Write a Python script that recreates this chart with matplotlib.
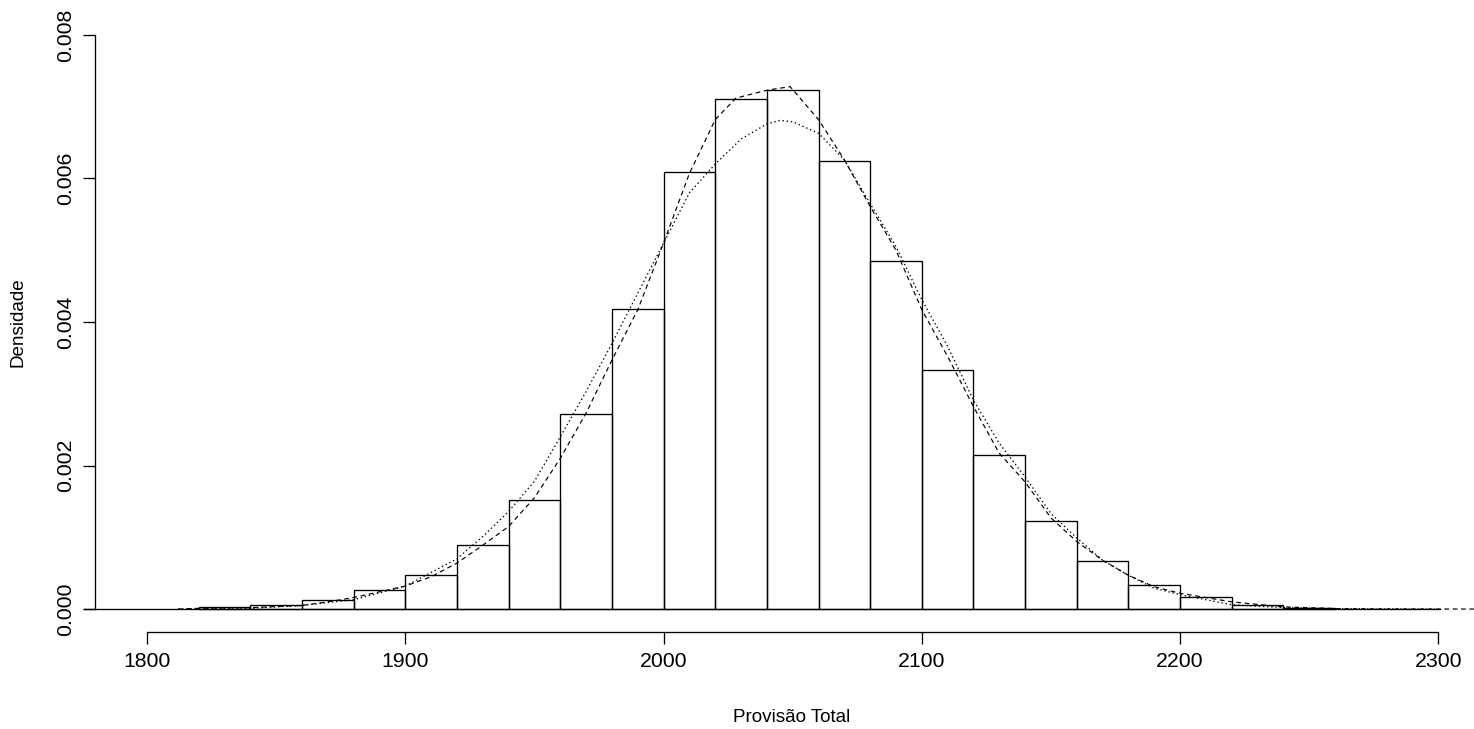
import matplotlib
matplotlib.use("Agg")
import matplotlib.pyplot as plt

plt.rcParams['font.family'] = ['Liberation Sans', 'DejaVu Sans']
plt.rcParams['lines.scale_dashes'] = False

# Histogram (bin left edges, width 20, density heights)
bin_left = [1820, 1840, 1860, 1880, 1900, 1920, 1940, 1960, 1980, 2000, 2020,
            2040, 2060, 2080, 2100, 2120, 2140, 2160, 2180, 2200, 2220, 2240]
bin_width = 20
density = [0.00003, 0.00005, 0.00013, 0.000265, 0.00048, 0.00089, 0.00152,
           0.00272, 0.00418, 0.00609, 0.00711, 0.00723, 0.00624, 0.00485,
           0.00333, 0.00215, 0.00123, 0.000665, 0.00033, 0.000165, 0.00006,
           0.00001]

# Dashed curve (kernel density estimate)
kde_x = [1812, 1820, 1840, 1860, 1870, 1880, 1890, 1900, 1910, 1920, 1930,
         1940, 1950, 1960, 1970, 1980, 1990, 2000, 2010, 2020, 2028, 2040,
         2049, 2060, 2070, 2080, 2090, 2100, 2110, 2120, 2130, 2140, 2150,
         2160, 2170, 2180, 2190, 2200, 2220, 2240, 2262, 2280, 2320]
kde_y = [0.0, 0.00001, 0.00002, 0.00005, 0.0001, 0.00016, 0.00024, 0.00032,
         0.00045, 0.00064, 0.00089, 0.00115, 0.00155, 0.0021, 0.00273,
         0.00347, 0.00417, 0.0051, 0.00607, 0.00682, 0.00712, 0.00723,
         0.00728, 0.00682, 0.00626, 0.00561, 0.005, 0.00417, 0.00352,
         0.00282, 0.00217, 0.00177, 0.00127, 0.00094, 0.00068, 0.00047,
         0.00031, 0.00022, 0.0001, 0.00003, 0.000005, 0.0, 0.0]

# Dotted curve (normal density)
norm_x = [1812, 1820, 1840, 1860, 1880, 1900, 1920, 1930, 1940, 1950, 1960,
          1970, 1980, 1990, 2000, 2010, 2020, 2030, 2040, 2045, 2050, 2060,
          2070, 2080, 2090, 2100, 2110, 2120, 2130, 2140, 2150, 2160, 2170,
          2180, 2190, 2200, 2220, 2240, 2260, 2300]
norm_y = [0.0, 0.000004, 0.00001, 0.00005, 0.00013, 0.00032, 0.0007,
          0.00101, 0.00136, 0.00178, 0.0024, 0.00303, 0.0037, 0.0044,
          0.0051, 0.0058, 0.0062, 0.00655, 0.00676, 0.00681, 0.00679,
          0.00663, 0.00626, 0.00565, 0.00505, 0.00431, 0.00366, 0.00291,
          0.00231, 0.00184, 0.00133, 0.00099, 0.00068, 0.00047, 0.00029,
          0.0002, 0.00006, 0.00002, 0.000005, 0.0]

baseline_x = [1775.6, 2300.8]
baseline_y = [0.0, 0.0]

x_ticks = [1800, 1900, 2000, 2100, 2200, 2300]
y_ticks = [0.000, 0.002, 0.004, 0.006, 0.008]
y_tick_labels = ["0.000", "0.002", "0.004", "0.006", "0.008"]

W, H = 1474, 729
fig = plt.figure(figsize=(W / 100, H / 100), dpi=100)
fig.patch.set_facecolor('white')
ax = fig.add_axes([95.4 / W, (H - 632) / H, (1490 - 95.4) / W, (632 - 12) / H])
ax.set_facecolor('none')

ax.bar(bin_left, density, width=bin_width, align='edge', fill=False,
       edgecolor='black', linewidth=0.95)
ax.plot(baseline_x, baseline_y, color='black', linewidth=0.95, clip_on=False)
ax.plot(kde_x, kde_y, color='black', linewidth=0.85, dashes=(3.4, 2.6))
ax.plot(norm_x, norm_y, color='black', linewidth=0.95, dashes=(1.0, 2.0))

ax.set_xlim(1780, 2320)
ax.set_ylim(-0.00032, 0.00832)

for s in ['top', 'right']:
    ax.spines[s].set_visible(False)
ax.spines['left'].set_bounds(0, 0.008)
ax.spines['bottom'].set_bounds(1800, 2300)
for s in ['left', 'bottom']:
    ax.spines[s].set_linewidth(0.95)

ax.set_xticks(x_ticks)
ax.set_xticklabels([str(v) for v in x_ticks])
ax.set_yticks(y_ticks)
ax.set_yticklabels(y_tick_labels, rotation=90, va='center')
ax.tick_params(axis='both', direction='out', length=8.6, width=0.95,
               labelsize=15.3, colors='black')
ax.tick_params(axis='x', pad=6)
ax.tick_params(axis='y', pad=6)

fig.text(18 / W, 1 - 322 / H, 'Densidade', rotation=90, ha='center',
         va='center', fontsize=13.6)
fig.text(792 / W, 1 - 717 / H, 'Provisão Total', ha='center', va='center',
         fontsize=13.6)

fig.savefig('out.png', dpi=100)
